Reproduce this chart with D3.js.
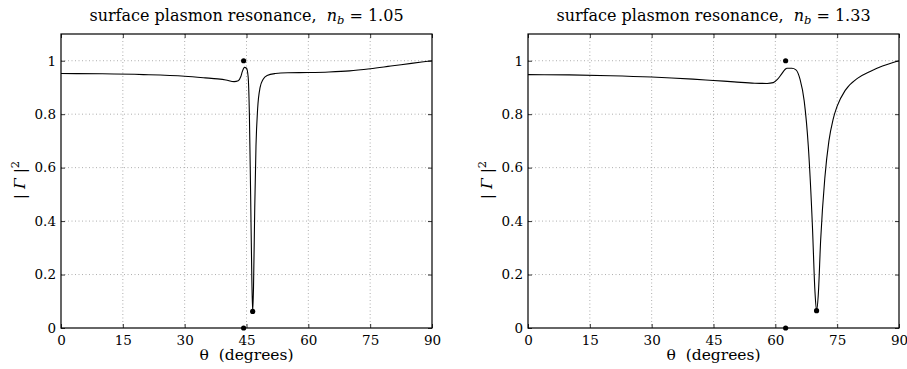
<!DOCTYPE html>
<html><head><meta charset="utf-8">
<script src="https://cdn.jsdelivr.net/npm/d3@7"></script>
<style>body{margin:0;background:#fff}svg{display:block}text{font-family:"DejaVu Serif","Liberation Serif",serif;fill:#000;white-space:pre}</style>
</head><body><svg id="c" width="907" height="369"></svg>
<script>
const xTicks = [0,15,30,45,60,75,90];
const yTicks = [0,0.2,0.4,0.6,0.8,1];
const yTickLabels = ["0","0.2","0.4","0.6","0.8","1"];
const titlesNb = ["1.05","1.33"];

// left panel, n_b = 1.05
const thetaA = [0,10,20,30,35,38,40,42,43,43.6,44.0,44.5,45.0,45.4,45.7,46.0,46.3,46.5,46.7,47.0,47.3,47.7,48.3,49,50,52,55,60,65,70,75,80,85,90];
const reflA  = [0.952,0.951,0.948,0.942,0.936,0.932,0.928,0.922,0.925,0.94,0.96,0.975,0.972,0.94,0.8,0.5,0.18,0.062,0.15,0.45,0.68,0.82,0.9,0.93,0.945,0.952,0.955,0.956,0.958,0.962,0.97,0.98,0.99,1.0];
const dotsA_theta = [44.3,44.3,46.5];
const dotsA_refl  = [1,0,0.062];

// right panel, n_b = 1.33
const thetaB = [0,10,20,30,40,45,50,55,58,59.5,60.5,61.5,62.4,62.8,64,65,66,67,68,69,69.6,70,70.4,71,72,73,74,75,77,80,83,86,90];
const reflB  = [0.948,0.947,0.944,0.939,0.931,0.926,0.921,0.916,0.915,0.918,0.93,0.95,0.968,0.972,0.972,0.966,0.93,0.85,0.68,0.38,0.14,0.065,0.12,0.33,0.56,0.70,0.78,0.83,0.89,0.935,0.96,0.98,1.0];
const dotsB_theta = [62.5,62.5,70];
const dotsB_refl  = [1,0,0.065];

const svg = d3.select("#c");
const panels = [
  {x0:61, th:thetaA, r:reflA, dt:dotsA_theta, dr:dotsA_refl, nb:titlesNb[0]},
  {x0:528, th:thetaB, r:reflB, dt:dotsB_theta, dr:dotsB_refl, nb:titlesNb[1]}
];
const W = 371, yTop = 34, yBot = 328;

panels.forEach(p => {
  const g = svg.append("g");
  const x = d3.scaleLinear().domain([0,90]).range([p.x0, p.x0+W]);
  const y = d3.scaleLinear().domain([0,1.1]).range([yBot, yTop]);
  // grid
  g.selectAll(".gx").data(xTicks.slice(1,-1)).enter().append("line")
    .attr("x1",d=>x(d)).attr("x2",d=>x(d)).attr("y1",yTop).attr("y2",yBot)
    .attr("stroke","#999").attr("stroke-width",0.8).attr("stroke-dasharray","1,2.5");
  g.selectAll(".gy").data(yTicks.slice(1)).enter().append("line")
    .attr("y1",d=>y(d)).attr("y2",d=>y(d)).attr("x1",p.x0).attr("x2",p.x0+W)
    .attr("stroke","#999").attr("stroke-width",0.8).attr("stroke-dasharray","1,2.5");
  // axes
  const ax = d3.axisBottom(x).tickValues(xTicks).tickSize(-4).tickPadding(7);
  const axT = d3.axisTop(x).tickValues(xTicks).tickSize(-4).tickFormat("");
  const ay = d3.axisLeft(y).tickValues(yTicks).tickSize(-4).tickPadding(5).tickFormat((d,i)=>yTickLabels[i]);
  const ayR = d3.axisRight(y).tickValues(yTicks).tickSize(-4).tickFormat("");
  g.append("g").attr("transform",`translate(0,${yBot})`).call(ax);
  g.append("g").attr("transform",`translate(0,${yTop})`).call(axT);
  g.append("g").attr("transform",`translate(${p.x0},0)`).call(ay);
  g.append("g").attr("transform",`translate(${p.x0+W},0)`).call(ayR);
  g.selectAll(".domain").remove();
  g.selectAll(".tick line").attr("stroke","#000").attr("stroke-width",0.8);
  g.selectAll(".tick text").attr("font-size",13.5).style("font-family",'"DejaVu Serif",serif');
  g.append("rect").attr("x",p.x0).attr("y",yTop).attr("width",W).attr("height",yBot-yTop)
    .attr("fill","none").attr("stroke","#000").attr("stroke-width",1.2);
  // curve
  const line = d3.line().x((d,i)=>x(p.th[i])).y((d,i)=>y(p.r[i])).curve(d3.curveMonotoneX);
  g.append("path").attr("d",line(p.th)).attr("fill","none").attr("stroke","#000").attr("stroke-width",1.1);
  // dots
  g.selectAll(".dot").data(p.dt).enter().append("circle")
    .attr("cx",d=>x(d)).attr("cy",(d,i)=>y(p.dr[i])).attr("r",2.6).attr("fill","#000");
  // title
  const t = g.append("text").attr("x",p.x0+W/2).attr("y",21).attr("text-anchor","middle").attr("font-size",16);
  t.append("tspan").text("surface plasmon resonance,  ");
  t.append("tspan").attr("font-style","italic").text("n");
  t.append("tspan").attr("font-style","italic").attr("font-size",11.5).attr("dy",3).text("b");
  t.append("tspan").attr("dy",-3).text(" = " + p.nb);
  // x label
  g.append("text").attr("x",p.x0+W/2).attr("y",360).attr("text-anchor","middle").attr("font-size",15.5)
    .text("θ  (degrees)");
  // y label
  const yl = g.append("text").attr("transform",`translate(${p.x0-36},${180}) rotate(-90)`)
    .attr("text-anchor","middle").attr("font-size",15.5);
  yl.append("tspan").text("| ");
  yl.append("tspan").attr("font-style","italic").text("Γ");
  yl.append("tspan").text(" |");
  yl.append("tspan").attr("font-size",11.5).attr("dy",-6).text("2");
});
</script></body></html>
